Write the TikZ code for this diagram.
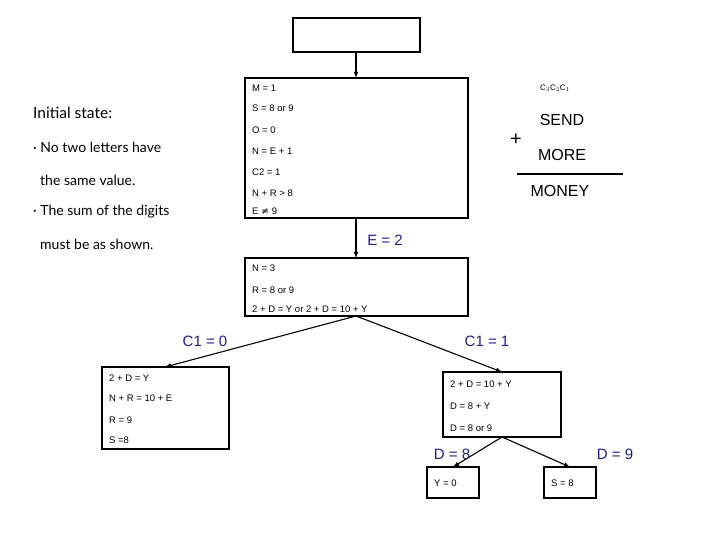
\documentclass[tikz,border=0pt]{standalone}
\usepackage{fontspec}
\setmainfont{Liberation Sans}
\newfontfamily\lato{Lato}
\begin{document}
\begin{tikzpicture}[x=1pt,y=-1pt,
  box/.style={draw,line width=1.1pt},
  t/.style={anchor=west,font=\fontsize{9.5}{10}\selectfont,inner sep=0},
  lab/.style={text={rgb,255:red,30;green,30;blue,140},font=\fontsize{15}{16}\selectfont,inner sep=0},
  arr/.style={-latex,line width=1.1pt},
  big/.style={font=\fontsize{16}{17}\selectfont,inner sep=0},
  side/.style={anchor=west,font=\lato\fontsize{14}{15}\selectfont,inner sep=0}]
\useasboundingbox (0,0) rectangle (720,540);
\draw[box] (293,18) rectangle (420,52);
\coordinate (top) at (356,52);
\draw[box] (245,78) rectangle (468,218);
\coordinate (b1t) at (356,78); \coordinate (b1b) at (356,218);
\foreach \y/\s in {88/{M = 1},108/{S = 8 or 9},130/{O = 0},151/{N = E + 1},172/{C2 = 1},193/{N + R > 8},211/{E {\fontspec{DejaVu Sans}≠} 9}}
  \node[t] at (252,\y) {\s};
\draw[arr] (top) -- (b1t);
\draw[box] (245,258) rectangle (468,316);
\coordinate (b2t) at (356,258); \coordinate (b2b) at (356,316);
\foreach \y/\s in {268/{N = 3},290/{R = 8 or 9},309/{2 + D = Y or 2 + D = 10 + Y}}
  \node[t] at (252,\y) {\s};
\draw[arr] (b1b) -- (b2t);
\node[lab] (e2) at (385,240) {E = 2};
\draw[box] (102,367) rectangle (229,449);
\coordinate (lt) at (165,367);
\foreach \y/\s in {378/{2 + D = Y},398/{N + R = 10 + E},420/{R = 9},440/{S =8}}
  \node[t] at (109,\y) {\s};
\draw[box] (443,372) rectangle (561,437);
\coordinate (rt) at (502,372); \coordinate (rb) at (502,437);
\foreach \y/\s in {384/{2 + D = 10 + Y},406/{D = 8 + Y},428/{D = 8 or 9}}
  \node[t] at (450,\y) {\s};
\draw[arr] (b2b) -- (lt);
\draw[arr] (b2b) -- (rt);
\node[lab] (c0) at (205,341) {C1 = 0};
\node[lab] (c1) at (487,341) {C1 = 1};
\draw[box] (427,467) rectangle (479,498);
\draw[box] (544,467) rectangle (596,498);
\node[t] at (434,483) {Y = 0};
\node[t] at (551,483) {S = 8};
\coordinate (y0) at (453,467); \coordinate (s8) at (570,467);
\draw[arr] (rb) -- (y0);
\draw[arr] (rb) -- (s8);
\node[lab] (d8) at (452,454) {D = 8};
\node[lab] (d9) at (615,454) {D = 9};
\node[side] at (33,113) {\fontsize{15.5}{16}\selectfont Initial state:};
\node[side] at (33,147) {\textperiodcentered\ No two letters have};
\node[side] at (40,180) {the same value.};
\node[side] at (33,212) {\textperiodcentered\ The sum of the digits};
\node[side] at (40,244) {must be as shown.};
\node[inner sep=0,font=\fontsize{8}{9}\selectfont] at (555,88) {C$_3$C$_2$C$_1$};
\node[big] at (562,120) {SEND};
\node[inner sep=0,font=\fontsize{20}{20}\selectfont] at (516,140) {+};
\node[big] at (562,155) {MORE};
\draw[line width=1.1pt] (517,174) -- (623,174);
\node[big] at (560,191) {MONEY};
\end{tikzpicture}
\end{document}
